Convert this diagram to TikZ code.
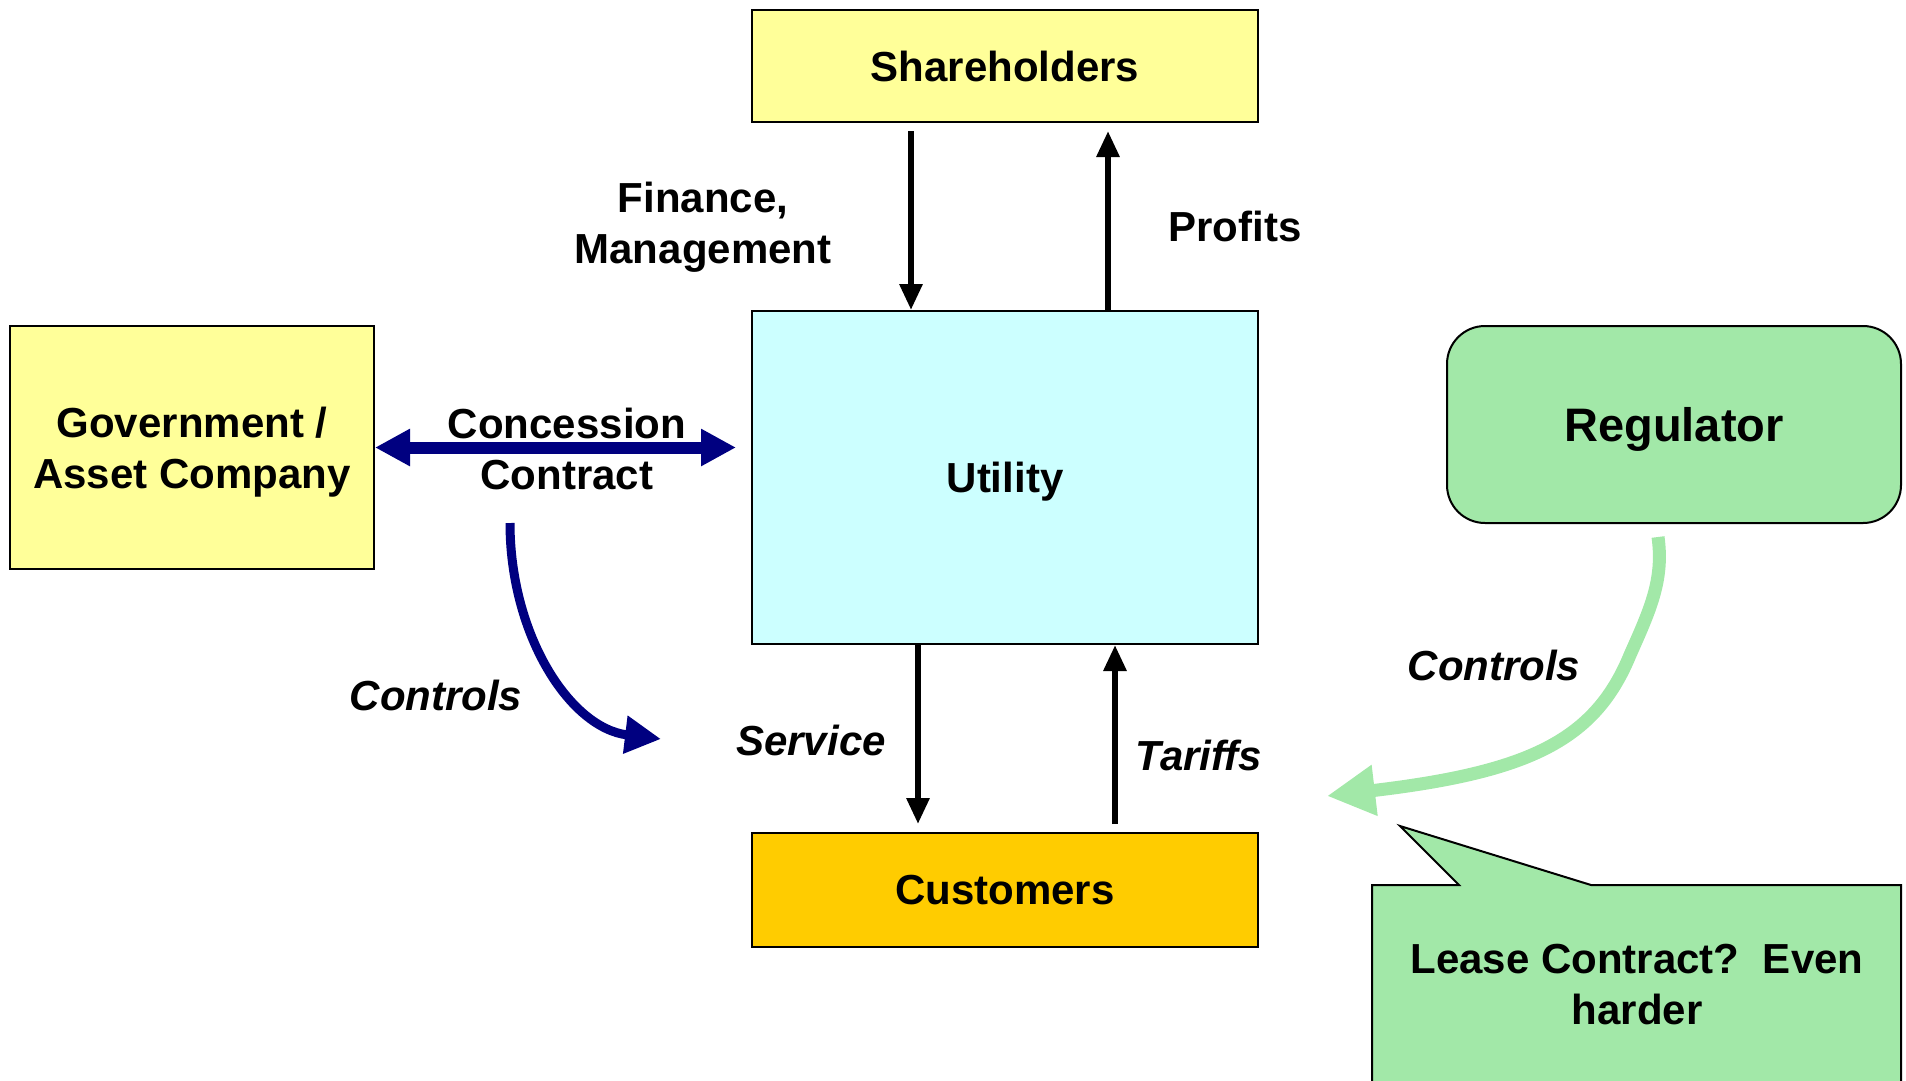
\documentclass[tikz,border=0pt]{standalone}
\usepackage{fontspec}
\setmainfont{Liberation Sans}
\usetikzlibrary{arrows.meta}
\definecolor{shy}{HTML}{FFFF99}
\definecolor{utc}{HTML}{CCFFFF}
\definecolor{cuo}{HTML}{FFCC00}
\definecolor{regg}{RGB}{162,232,168}
\definecolor{navyc}{HTML}{000080}
\begin{document}
\begin{tikzpicture}[x=1pt,y=-1pt,
  box/.style={draw=black, line width=2pt, inner sep=0pt, align=center,
    font=\fontsize{42}{51}\selectfont\bfseries},
  lbl/.style={inner sep=0pt, anchor=base, align=center,
    font=\fontsize{42}{51}\selectfont\bfseries},
  ilbl/.style={lbl, font=\fontsize{42}{51}\selectfont\bfseries\itshape},
  blk/.style={line width=6pt, -{Triangle[length=26pt,width=22pt]}},
  navyarr/.style={navyc, line width=12pt, {Triangle[length=35pt,width=35pt]}-{Triangle[length=35pt,width=35pt]}},
  navycurve/.style={navyc, line width=9pt, -{Triangle[length=36pt,width=36pt]}},
  greencurve/.style={regg, line width=13pt, -{Triangle[length=48pt,width=48pt]}}
]
\useasboundingbox (0,0) rectangle (1906,1080);

% boxes
\node[box, fill=shy, minimum width=506, minimum height=112] (sh) at (1005,66) {Shareholders};
\node[box, fill=utc, minimum width=506, minimum height=333, text depth=0pt] (ut) at (1005,477.5) {Utility};
\node[box, fill=cuo, minimum width=506, minimum height=114] (cu) at (1005,890) {Customers};
\node[box, fill=shy, minimum width=364, minimum height=243, text depth=0pt] (gov) at (192,447.5) {Government /\\Asset Company};
\node[box, fill=regg, rounded corners=38pt, minimum width=454, minimum height=197, text depth=0pt,
      font=\fontsize{47}{56}\selectfont\bfseries] (reg) at (1674,424.5) {Regulator};

% callout
\fill[regg] (1372,885) -- (1459,885) -- (1400,826) -- (1591,885) -- (1901,885) -- (1901,1085) -- (1372,1085) -- cycle;
\draw[black, line width=2pt, line join=miter] (1372,1085) -- (1372,885) -- (1459,885) -- (1400,826) -- (1591,885) -- (1901,885) -- (1901,1085);
\node[lbl] (lease) at (1637,1024) {Lease Contract?~~Even\\harder};

% vertical arrows
\draw[blk, shorten <=8pt] ([xshift=-94pt]sh.south) -- ([xshift=-94pt]ut.north);
\draw[blk] ([xshift=103pt]ut.north) -- ([xshift=103pt,yshift=-8pt]sh.south);
\draw[blk] ([xshift=-87pt]ut.south) -- ([xshift=-87pt,yshift=8pt]cu.north);
\draw[blk, shorten <=8pt] ([xshift=110pt]cu.north) -- ([xshift=110pt]ut.south);

% concession arrow
\draw[navyarr] (gov.east) -- ([xshift=-15pt]ut.west |- gov.east);

% controls curves
\coordinate (nc1) at (510,523);
\coordinate (nc2) at (661,739);
\draw[navycurve] (nc1) .. controls (510,635) and (570,728) .. (nc2);
\coordinate (gc1) at (1658,537);
\coordinate (gc2) at (1327,796);
\draw[greencurve] (gc1) .. controls (1664,580) and (1650,610) .. (1630,655)
   .. controls (1595,740) and (1530,772) .. (gc2);

% labels
\node[lbl] (fin) at (703,263) {Finance,\\Management};
\node[lbl] (prof) at (1235,241) {Profits};
\node[lbl] (conc) at (567,489) {Concession\\Contract};
\node[ilbl] (ctl1) at (436,710) {Controls};
\node[ilbl] (serv) at (811,755) {Service};
\node[ilbl] (tar) at (1199,770) {Tariffs};
\node[ilbl] (ctl2) at (1494,680) {Controls};
\end{tikzpicture}
\end{document}
